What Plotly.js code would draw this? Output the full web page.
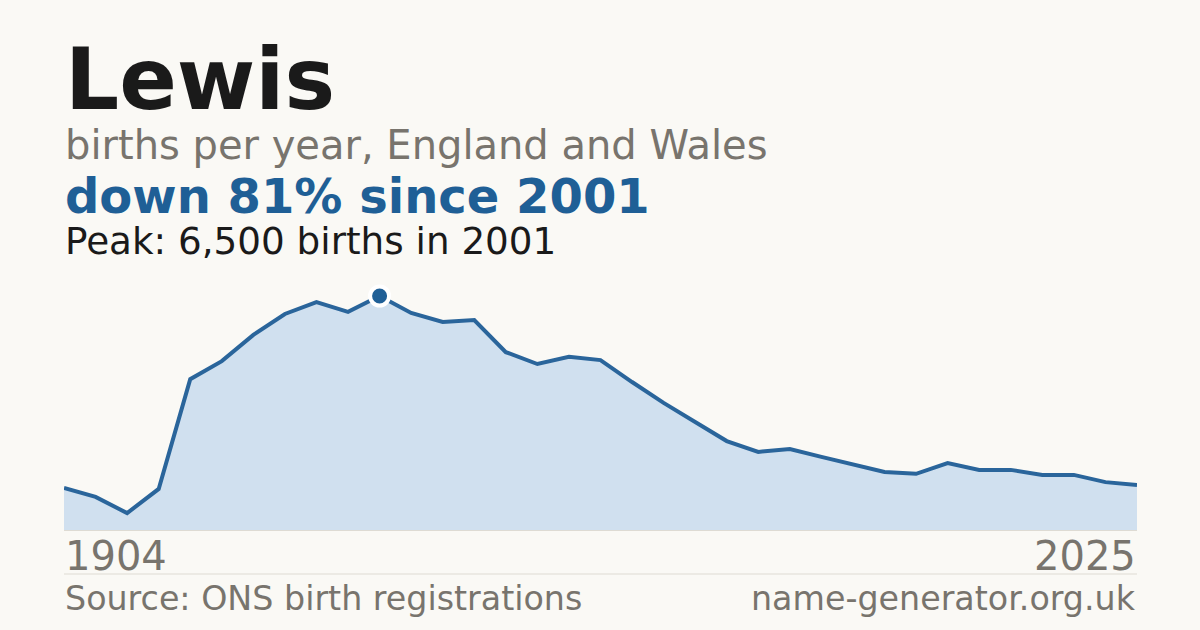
<!DOCTYPE html>
<html>
<head>
<meta charset="utf-8">
<script src="https://cdn.plot.ly/plotly-3.0.1.min.js"></script>
<style>
  html, body { margin: 0; padding: 0; background: #faf9f5; }
</style>
</head>
<body>
<div id="chart" style="width:1200px;height:630px"></div>
<script>
// years shown in the chart (historical lists first, then yearly)
var years = ['1904', '1914', '1924', '1984', '1994',
  '1996', '1997', '1998', '1999', '2000', '2001', '2002', '2003', '2004', '2005',
  '2006', '2007', '2008', '2009', '2010', '2011', '2012', '2013', '2014', '2015',
  '2016', '2017', '2018', '2019', '2020', '2021', '2022', '2023', '2024', '2025'];

// births per year
var births = [1170, 920, 470, 1140, 4190,
  4690, 5420, 6000, 6330, 6060, 6500, 6030, 5780, 5830, 4940,
  4610, 4810, 4720, 4110, 3530, 3000, 2470, 2170, 2250, 2030,
  1830, 1610, 1560, 1860, 1670, 1670, 1530, 1530, 1330, 1250];

var blue = '#1f5f96';
var grey = '#78746d';
var font = 'DejaVu Sans, Verdana, sans-serif';

var peak = Math.max.apply(null, births);
var peakIdx = births.indexOf(peak);

// plot box is 64..1137 x 270..530 px
var plotTop = 270, plotBottom = 530;
function py(p) { return (plotBottom - p) / (plotBottom - plotTop); }

var data = [{
    x: years,
    y: births,
    type: 'scatter',
    mode: 'lines',
    fill: 'tozeroy',
    fillcolor: '#d0e0ef',
    line: {color: '#2a659b', width: 4},
    hoverinfo: 'skip'
}, {
    x: [years[peakIdx]],
    y: [peak],
    type: 'scatter',
    mode: 'markers',
    marker: {size: 19, color: blue, line: {color: '#ffffff', width: 4}},
    hoverinfo: 'skip'
}];

var layout = {
    width: 1200,
    height: 630,
    margin: {l: 64, r: 63, t: plotTop, b: 630 - plotBottom},
    paper_bgcolor: '#faf9f5',
    plot_bgcolor: '#faf9f5',
    showlegend: false,
    font: {family: font},
    xaxis: {
        type: 'category',
        range: [0, years.length - 1],
        showticklabels: false,
        showgrid: false,
        zeroline: false,
        showline: true,
        linecolor: '#dedbd3',
        linewidth: 1
    },
    yaxis: {
        range: [0, peak * 260 / 234],
        visible: false,
        fixedrange: true
    },
    shapes: [{
        type: 'line', xref: 'paper', yref: 'paper',
        x0: 0, x1: 1, y0: py(574), y1: py(574),
        line: {color: '#dedbd3', width: 1}
    }],
    annotations: [
        {text: '<b>Lewis</b>', x: 0, y: py(80), font: {size: 85, color: '#1a1a1a'}},
        {text: 'births per year, England and Wales', x: 0, y: py(145), font: {size: 40, color: grey}},
        {text: '<b>down 81% since 2001</b>', x: 0, y: py(196), font: {size: 48, color: blue}},
        {text: 'Peak: 6,500 births in 2001', x: 0, y: py(241), font: {size: 37.3, color: '#1a1a1a'}},
        {text: years[0], x: 0, y: py(556), font: {size: 40, color: grey}},
        {text: years[years.length - 1], x: 1, xanchor: 'right', y: py(556), font: {size: 40, color: grey}},
        {text: 'Source: ONS birth registrations', x: 0, y: py(598), font: {size: 33.3, color: grey}},
        {text: 'name-generator.org.uk', x: 1, xanchor: 'right', y: py(598), font: {size: 33.3, color: grey}}
    ].map(function (a) {
        return Object.assign({
            xref: 'paper', yref: 'paper', xanchor: 'left', yanchor: 'middle',
            showarrow: false, borderpad: 0
        }, a);
    })
};

Plotly.newPlot('chart', data, layout, {staticPlot: true, displayModeBar: false});
</script>
</body>
</html>
